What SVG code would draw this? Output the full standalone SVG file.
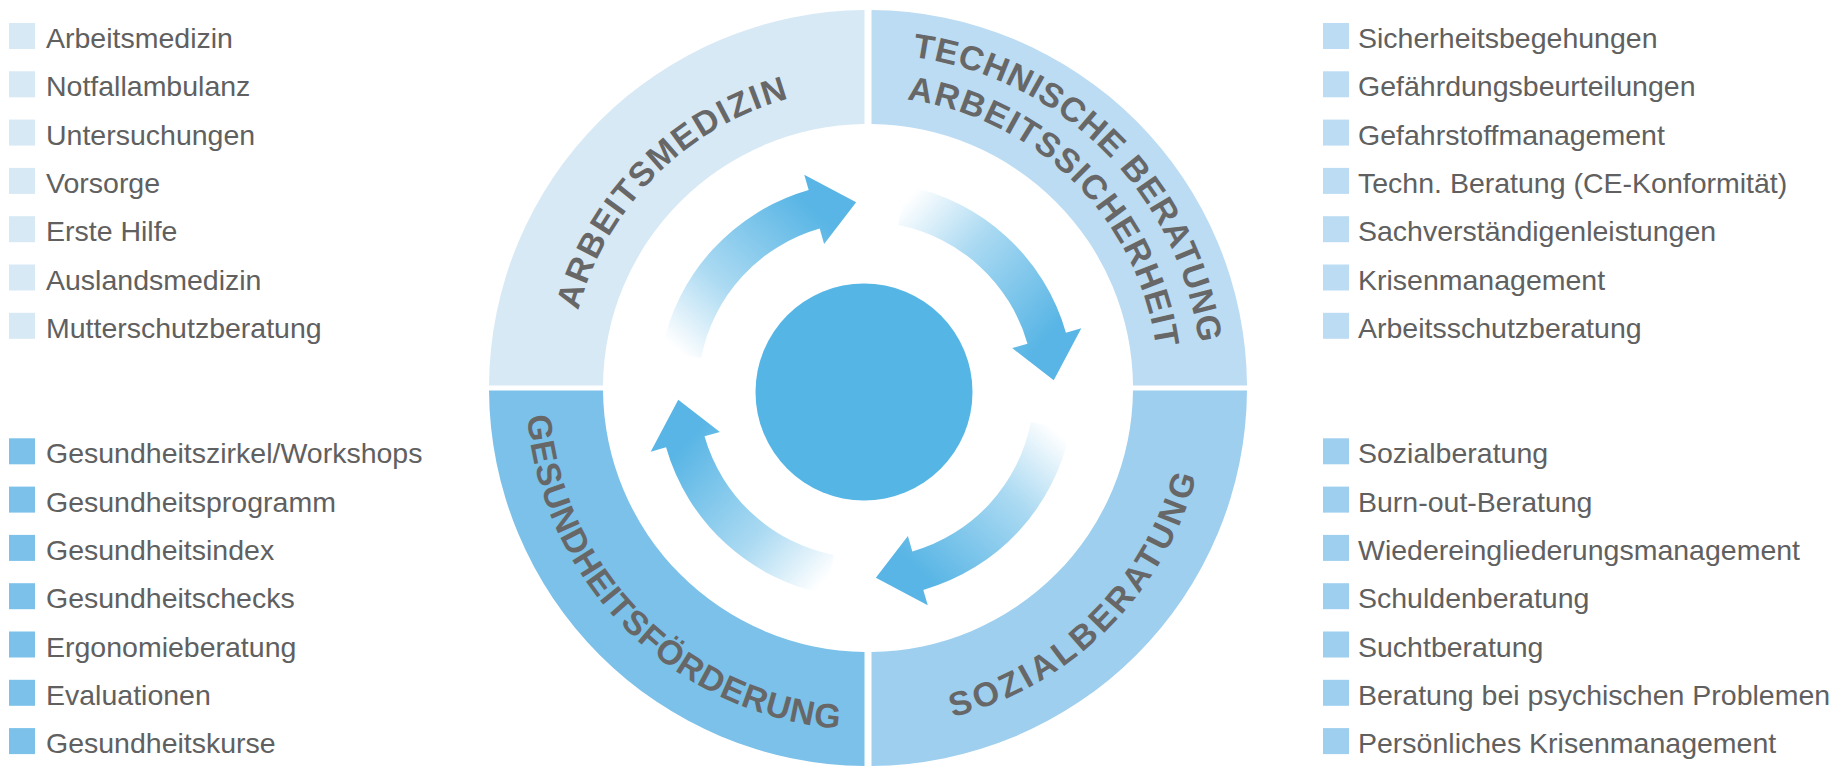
<svg xmlns="http://www.w3.org/2000/svg" xmlns:xlink="http://www.w3.org/1999/xlink" width="1837" height="769" viewBox="0 0 1837 769">
<style>
.item{font-family:"Liberation Sans",Arial,sans-serif;font-size:28.5px;fill:#606060}
.ring{font-family:"Liberation Sans",Arial,sans-serif;font-size:34px;font-weight:bold;fill:#676767}
.c1{fill:#d8e9f6}.c2{fill:#bcdcf3}.c3{fill:#9ecfef}.c4{fill:#7bc1ea}
</style>
<defs>
<path id="pArb" d="M568,388 A300,300 0 0 1 868,88"/>
<path id="pTech" d="M868,54 A334,334 0 0 1 1202,388"/>
<path id="pSich" d="M868,97 A291,291 0 0 1 1159,388"/>
<path id="pGes" d="M526,388 A342,342 0 0 0 868,730"/>
<path id="pSoz" d="M868,728 A340,340 0 0 0 1208,388"/>
<linearGradient id="g1" gradientUnits="userSpaceOnUse" x1="681.45" y1="354.13" x2="814.18" y2="209.28">
<stop offset="0" stop-color="#58b5e5" stop-opacity="0"/><stop offset="0.4" stop-color="#58b5e5" stop-opacity="0.5"/><stop offset="1" stop-color="#58b5e5" stop-opacity="1"/></linearGradient>
<linearGradient id="g2" gradientUnits="userSpaceOnUse" x1="901.87" y1="205.45" x2="1046.72" y2="338.18">
<stop offset="0" stop-color="#58b5e5" stop-opacity="0"/><stop offset="0.4" stop-color="#58b5e5" stop-opacity="0.5"/><stop offset="1" stop-color="#58b5e5" stop-opacity="1"/></linearGradient>
<linearGradient id="g3" gradientUnits="userSpaceOnUse" x1="1050.55" y1="425.87" x2="917.82" y2="570.72">
<stop offset="0" stop-color="#58b5e5" stop-opacity="0"/><stop offset="0.4" stop-color="#58b5e5" stop-opacity="0.5"/><stop offset="1" stop-color="#58b5e5" stop-opacity="1"/></linearGradient>
<linearGradient id="g4" gradientUnits="userSpaceOnUse" x1="830.13" y1="574.55" x2="685.28" y2="441.82">
<stop offset="0" stop-color="#58b5e5" stop-opacity="0"/><stop offset="0.4" stop-color="#58b5e5" stop-opacity="0.5"/><stop offset="1" stop-color="#58b5e5" stop-opacity="1"/></linearGradient>
</defs>
<rect width="1837" height="769" fill="#ffffff"/>

<g id="arbeitsmedizin">
<path class="c1" d="M489,385.5 A379,378 0 0 1 864.5,10 L864.5,124 A265,264 0 0 0 603,385.5 Z"/>
<text class="ring" letter-spacing="1.8"><textPath xlink:href="#pArb" href="#pArb" startOffset="50%" text-anchor="middle">ARBEITSMEDIZIN</textPath></text>
</g>
<g id="technische-beratung">
<path class="c2" d="M871.5,10 A379,378 0 0 1 1247,385.5 L1133,385.5 A265,264 0 0 0 871.5,124 Z"/>
<text class="ring"><textPath xlink:href="#pTech" href="#pTech" startOffset="50%" text-anchor="middle" letter-spacing="0.8">TECHNISCHE BERATUNG</textPath><textPath xlink:href="#pSich" href="#pSich" startOffset="50%" text-anchor="middle" letter-spacing="1.4">ARBEITSSICHERHEIT</textPath></text>
</g>
<g id="sozialberatung">
<path class="c3" d="M1247,390.5 A379,378 0 0 1 871.5,766 L871.5,652 A265,264 0 0 0 1133,390.5 Z"/>
<text class="ring" letter-spacing="3.4"><textPath xlink:href="#pSoz" href="#pSoz" startOffset="50%" text-anchor="middle">SOZIALBERATUNG</textPath></text>
</g>
<g id="gesundheitsfoerderung">
<path class="c4" d="M864.5,766 A379,378 0 0 1 489,390.5 L603,390.5 A265,264 0 0 0 864.5,652 Z"/>
<text class="ring" letter-spacing="0.8"><textPath xlink:href="#pGes" href="#pGes" startOffset="50%" text-anchor="middle">GESUNDHEITSFÖRDERUNG</textPath></text>
</g>

<g id="center">
<circle cx="864" cy="392" r="108.5" fill="#55b6e6"/>
</g>

<g id="connectors">
<path fill="url(#g1)" d="M661.82,350.31 A208,208 0 0 1 808.67,190.06 L804.26,174.68 L856.16,202.26 L824.10,243.89 L819.69,228.51 A168,168 0 0 0 701.09,357.94 Z"/>
<path fill="url(#g2)" d="M905.69,185.82 A208,208 0 0 1 1065.94,332.67 L1081.32,328.26 L1053.74,380.16 L1012.11,348.10 L1027.49,343.69 A168,168 0 0 0 898.06,225.09 Z"/>
<path fill="url(#g3)" d="M1070.18,429.69 A208,208 0 0 1 923.33,589.94 L927.74,605.32 L875.84,577.74 L907.90,536.11 L912.31,551.49 A168,168 0 0 0 1030.91,422.06 Z"/>
<path fill="url(#g4)" d="M826.31,594.18 A208,208 0 0 1 666.06,447.33 L650.68,451.74 L678.26,399.84 L719.89,431.90 L704.51,436.31 A168,168 0 0 0 833.94,554.91 Z"/>
</g>

<g id="list-arbeitsmedizin">
<rect class="c1" x="9" y="23" width="26" height="26"/><text class="item" x="46" y="48">Arbeitsmedizin</text>
<rect class="c1" x="9" y="71.3" width="26" height="26"/><text class="item" x="46" y="96.3">Notfallambulanz</text>
<rect class="c1" x="9" y="119.6" width="26" height="26"/><text class="item" x="46" y="144.6">Untersuchungen</text>
<rect class="c1" x="9" y="167.9" width="26" height="26"/><text class="item" x="46" y="192.9">Vorsorge</text>
<rect class="c1" x="9" y="216.2" width="26" height="26"/><text class="item" x="46" y="241.2">Erste Hilfe</text>
<rect class="c1" x="9" y="264.5" width="26" height="26"/><text class="item" x="46" y="289.5">Auslandsmedizin</text>
<rect class="c1" x="9" y="312.8" width="26" height="26"/><text class="item" x="46" y="337.8">Mutterschutzberatung</text>
</g>

<g id="list-technik">
<rect class="c2" x="1323" y="23" width="26" height="26"/><text class="item" x="1358" y="48">Sicherheitsbegehungen</text>
<rect class="c2" x="1323" y="71.3" width="26" height="26"/><text class="item" x="1358" y="96.3">Gefährdungsbeurteilungen</text>
<rect class="c2" x="1323" y="119.6" width="26" height="26"/><text class="item" x="1358" y="144.6">Gefahrstoffmanagement</text>
<rect class="c2" x="1323" y="167.9" width="26" height="26"/><text class="item" x="1358" y="192.9">Techn. Beratung (CE-Konformität)</text>
<rect class="c2" x="1323" y="216.2" width="26" height="26"/><text class="item" x="1358" y="241.2">Sachverständigenleistungen</text>
<rect class="c2" x="1323" y="264.5" width="26" height="26"/><text class="item" x="1358" y="289.5">Krisenmanagement</text>
<rect class="c2" x="1323" y="312.8" width="26" height="26"/><text class="item" x="1358" y="337.8">Arbeitsschutzberatung</text>
</g>

<g id="list-gesundheit">
<rect class="c4" x="9" y="438.3" width="26" height="26"/><text class="item" x="46" y="463.3">Gesundheitszirkel/Workshops</text>
<rect class="c4" x="9" y="486.6" width="26" height="26"/><text class="item" x="46" y="511.6">Gesundheitsprogramm</text>
<rect class="c4" x="9" y="534.9" width="26" height="26"/><text class="item" x="46" y="559.9">Gesundheitsindex</text>
<rect class="c4" x="9" y="583.2" width="26" height="26"/><text class="item" x="46" y="608.2">Gesundheitschecks</text>
<rect class="c4" x="9" y="631.5" width="26" height="26"/><text class="item" x="46" y="656.5">Ergonomieberatung</text>
<rect class="c4" x="9" y="679.8" width="26" height="26"/><text class="item" x="46" y="704.8">Evaluationen</text>
<rect class="c4" x="9" y="728.1" width="26" height="26"/><text class="item" x="46" y="753.1">Gesundheitskurse</text>
</g>

<g id="list-sozial">
<rect class="c3" x="1323" y="438.3" width="26" height="26"/><text class="item" x="1358" y="463.3">Sozialberatung</text>
<rect class="c3" x="1323" y="486.6" width="26" height="26"/><text class="item" x="1358" y="511.6">Burn-out-Beratung</text>
<rect class="c3" x="1323" y="534.9" width="26" height="26"/><text class="item" x="1358" y="559.9">Wiedereingliederungsmanagement</text>
<rect class="c3" x="1323" y="583.2" width="26" height="26"/><text class="item" x="1358" y="608.2">Schuldenberatung</text>
<rect class="c3" x="1323" y="631.5" width="26" height="26"/><text class="item" x="1358" y="656.5">Suchtberatung</text>
<rect class="c3" x="1323" y="679.8" width="26" height="26"/><text class="item" x="1358" y="704.8">Beratung bei psychischen Problemen</text>
<rect class="c3" x="1323" y="728.1" width="26" height="26"/><text class="item" x="1358" y="753.1">Persönliches Krisenmanagement</text>
</g>
</svg>
